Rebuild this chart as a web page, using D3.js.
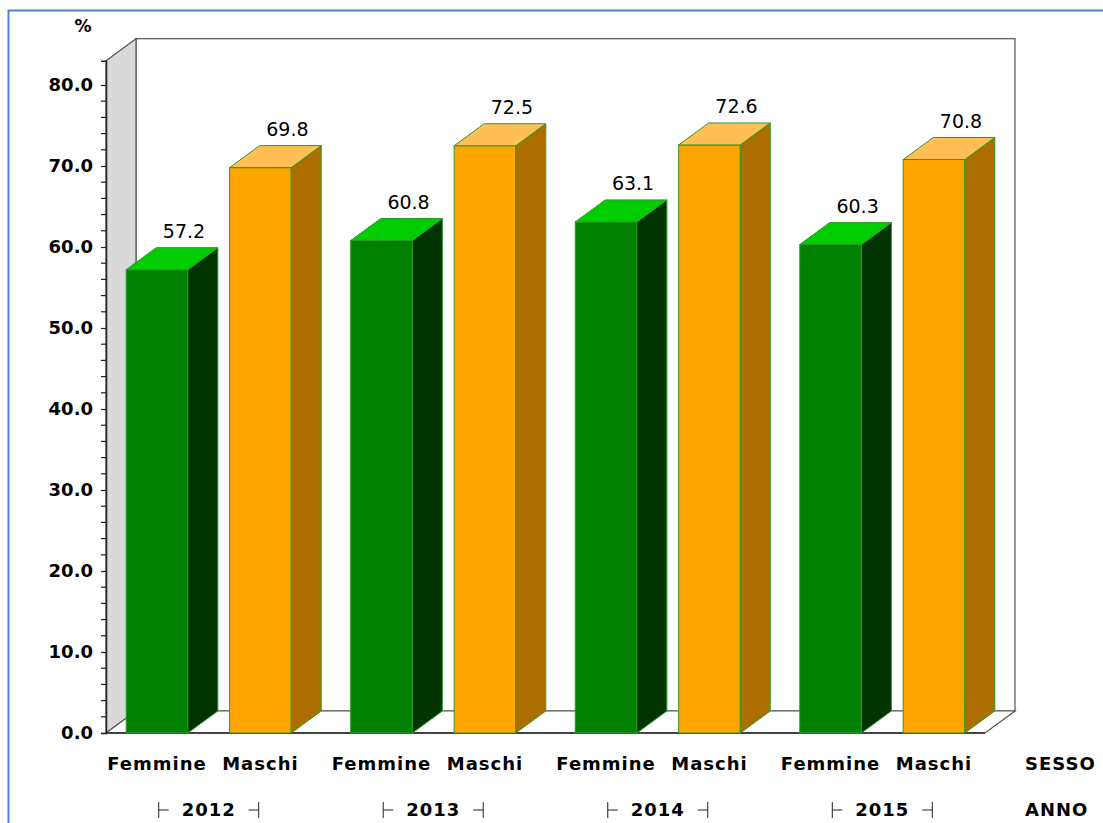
<html><head>
<title>Femmine / Maschi 2012-2015</title>
<script src="https://d3js.org/d3.v7.min.js"></script>
<style>
  body { margin: 0; background: #fff; }
  svg text { font-family: "DejaVu Sans", Verdana, sans-serif; }
</style>
</head>
<body>
<div id="container"></div>

<script>

  // Data
  const years = ["2012", "2013", "2014", "2015"];
  const sessi = ["Femmine", "Maschi"];
  const femmine = [57.2, 60.8, 63.1, 60.3];
  const maschi = [69.8, 72.5, 72.6, 70.8];
  const yTicks = [0, 10, 20, 30, 40, 50, 60, 70, 80];

  const width = 1103;
  const height = 823;
  const depth = { x: 30, y: 22 };   // 3d offset of the walls and bars

  const faces = {
    Femmine: { front: "#008000", side: "#003300", top: "#00cc00" },
    Maschi:  { front: "#ffa500", side: "#ad6e00", top: "#ffbf55" }
  };

  const svg = d3.select("#container").append("svg")
                .attr("width", width)
                .attr("height", height);

  // blue frame around the output
  svg.append("rect")
     .attr("x", 8.5).attr("y", 10.5)
     .attr("width", width + 20).attr("height", height + 20)
     .attr("fill", "none")
     .attr("stroke", "#4f81d9")
     .attr("stroke-width", 2);

  const yScale = d3.scaleLinear().domain([0, 83]).range([733, 733 - 83 * 8.1]);
  const xGroup = d3.scaleBand().domain(years).range([106, 985]).paddingInner(0.265).paddingOuter(0.09);
  const xSex = d3.scaleBand().domain(sessi).range([0, xGroup.bandwidth()]).paddingInner(0.404).paddingOuter(0);

  const x0 = 106, x1 = 985;
  const yBottom = yScale(0), yTop = yScale(83);

  // back wall
  svg.append("rect")
     .attr("x", x0 + depth.x).attr("y", yTop - depth.y)
     .attr("width", x1 - x0).attr("height", yBottom - yTop)
     .attr("fill", "#fff").attr("stroke", "#555").attr("stroke-width", 1.2);

  // left wall
  svg.append("polygon")
     .attr("points", [[x0, yTop], [x0 + depth.x, yTop - depth.y], [x0 + depth.x, yBottom - depth.y], [x0, yBottom]].join(" "))
     .attr("fill", "#d9d9d9").attr("stroke", "#555").attr("stroke-width", 1.2);

  // floor
  svg.append("polygon")
     .attr("points", [[x0, yBottom], [x0 + depth.x, yBottom - depth.y], [x1 + depth.x, yBottom - depth.y], [x1, yBottom]].join(" "))
     .attr("fill", "#fff").attr("stroke", "#555").attr("stroke-width", 1.2);
  svg.append("line")
     .attr("x1", x0).attr("x2", x1).attr("y1", yBottom).attr("y2", yBottom)
     .attr("stroke", "#222").attr("stroke-width", 1.5);

  // y axis
  const yAxis = d3.axisLeft(yScale)
                  .tickValues(yTicks)
                  .tickSize(5)
                  .tickFormat(d3.format(".1f"));
  const yAxisArea = svg.append("g").attr("transform", "translate(" + x0 + ",0)").call(yAxis);
  yAxisArea.select(".domain").attr("stroke", "#222").attr("stroke-width", 1.5);
  yAxisArea.selectAll(".tick line").attr("stroke", "#222").attr("stroke-width", 1.2);
  yAxisArea.selectAll(".tick text")
           .attr("x", -13)
           .attr("font-size", 18)
           .attr("font-weight", "bold")
           .attr("fill", "#000");

  // minor ticks
  const minor = d3.range(0, 81, 2).filter(v => v % 10 !== 0);
  svg.append("g").selectAll("line").data(minor).join("line")
     .attr("x1", x0 - 5).attr("x2", x0)
     .attr("y1", d => yScale(d)).attr("y2", d => yScale(d))
     .attr("stroke", "#222").attr("stroke-width", 1.2);

  svg.append("text")
     .attr("x", 83).attr("y", 32)
     .attr("text-anchor", "middle")
     .attr("font-size", 17).attr("font-weight", "bold")
     .text("%");

  // bars
  const rows = [];
  years.forEach((yr, i) => {
    rows.push({ year: yr, sex: "Femmine", value: femmine[i] });
    rows.push({ year: yr, sex: "Maschi", value: maschi[i] });
  });

  const bars = svg.append("g").selectAll("g").data(rows).join("g");

  bars.each(function(d) {
    const g = d3.select(this);
    const bx = xGroup(d.year) + xSex(d.sex);
    const bw = xSex.bandwidth();
    const by = yScale(d.value);
    const col = faces[d.sex];

    g.append("rect")
     .attr("x", bx).attr("y", by)
     .attr("width", bw).attr("height", yBottom - by)
     .attr("fill", col.front).attr("stroke", "#2b9a2b").attr("stroke-width", 1);

    g.append("polygon")
     .attr("points", [[bx + bw, by], [bx + bw + depth.x, by - depth.y], [bx + bw + depth.x, yBottom - depth.y], [bx + bw, yBottom]].join(" "))
     .attr("fill", col.side).attr("stroke", "#2b9a2b").attr("stroke-width", 1);

    g.append("polygon")
     .attr("points", [[bx, by], [bx + depth.x, by - depth.y], [bx + bw + depth.x, by - depth.y], [bx + bw, by]].join(" "))
     .attr("fill", col.top).attr("stroke", "#2b9a2b").attr("stroke-width", 1);

    g.append("text")
     .attr("x", bx + bw / 2 + 27)
     .attr("y", by - depth.y - 10)
     .attr("text-anchor", "middle")
     .attr("font-size", 19)
     .attr("fill", "#000")
     .text(d3.format(".1f")(d.value));
  });

  // category labels
  svg.append("g").selectAll("text").data(rows).join("text")
     .attr("x", d => xGroup(d.year) + xSex(d.sex) + xSex.bandwidth() / 2)
     .attr("y", 770)
     .attr("text-anchor", "middle")
     .attr("font-size", 18).attr("font-weight", "bold")
     .attr("letter-spacing", 1)
     .text(d => d.sex);

  // year labels with group brackets
  const yearG = svg.append("g").selectAll("g").data(years).join("g")
                   .attr("transform", d => "translate(" + (xGroup(d) + xGroup.bandwidth() / 2) + ",0)");
  yearG.append("text")
       .attr("y", 816)
       .attr("text-anchor", "middle")
       .attr("font-size", 18).attr("font-weight", "bold")
       .attr("letter-spacing", 1)
       .text(d => d);
  [-1, 1].forEach(s => {
    yearG.append("line")
         .attr("x1", s * 50).attr("x2", s * 50)
         .attr("y1", 802).attr("y2", 818)
         .attr("stroke", "#222");
    yearG.append("line")
         .attr("x1", s * 50).attr("x2", s * 40)
         .attr("y1", 810).attr("y2", 810)
         .attr("stroke", "#222");
  });

  svg.append("text")
     .attr("x", 1025).attr("y", 770)
     .attr("font-size", 18).attr("font-weight", "bold").attr("letter-spacing", 1)
     .text("SESSO");
  svg.append("text")
     .attr("x", 1025).attr("y", 816)
     .attr("font-size", 18).attr("font-weight", "bold").attr("letter-spacing", 1)
     .text("ANNO");

</script>
</body>
</html>
